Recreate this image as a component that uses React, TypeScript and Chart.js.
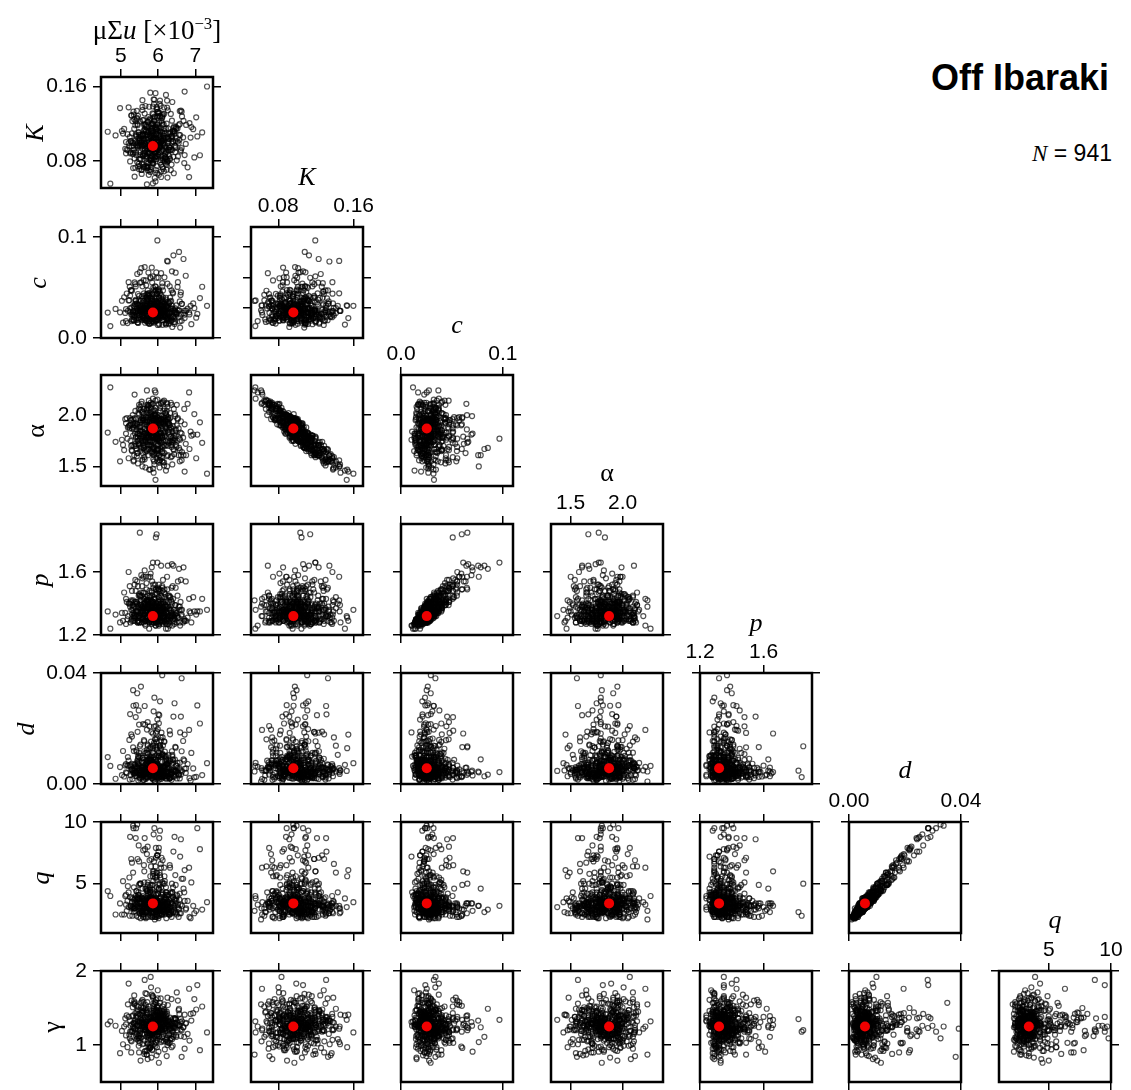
import React, { useEffect, useRef } from "react";
import { Chart, registerables } from "chart.js";
Chart.register(...registerables);

// Posterior samples (values estimated from the reference scatter clouds)
const MU = [
  5.91,5.42,6.23,5.77,6.05,5.18,6.58,5.86,5.63,6.31,
  5.52,6.12,5.97,4.98,6.44,5.74,5.36,6.02,6.89,5.68,
  6.17,5.81,5.29,6.36,5.94,5.58,7.12,5.71,6.08,5.45,
  5.83,6.47,5.61,5.99,5.24,6.21,5.88,6.63,5.49,5.96,
  6.28,5.67,5.06,6.14,5.79,6.71,5.55,5.92,6.39,4.72,
  5.73,6.09,5.87,5.33,6.52,5.64,6.01,5.41,6.26,5.84,
  5.59,6.35,5.93,6.84,5.21,5.78,6.16,5.69,5.47,6.03,
  6.42,5.76,5.38,6.11,5.89,6.97,5.62,6.24,5.12,5.95,
  5.85,5.31,6.19,5.72,6.56,5.98,5.44,6.07,5.66,7.31,
  5.57,6.29,5.82,5.16,6.12,5.91,6.48,5.35,5.79,6.04,
  6.33,5.69,5.53,6.67,5.86,5.27,6.13,5.94,5.61,6.38,
  5.74,6.06,5.40,5.97,6.79,5.63,5.88,6.22,5.09,5.81,
  6.15,5.51,5.92,6.43,5.70,6.02,5.34,6.61,5.84,5.60,
  5.99,6.27,5.46,5.80,6.09,4.86,6.53,5.75,5.93,6.18,
  5.65,5.89,6.34,5.23,6.01,5.78,6.75,5.56,6.11,5.87,
  6.46,5.38,5.96,6.20,5.67,6.04,5.49,5.83,7.02,5.72,
  5.94,6.37,5.58,5.14,6.25,5.85,5.71,6.59,5.43,6.06,
  5.80,5.62,6.16,5.97,5.30,6.41,5.90,5.68,6.28,5.52,
  6.10,5.77,6.64,5.48,5.95,6.19,5.36,5.86,6.50,5.64,
  5.88,6.32,5.55,6.03,5.19,5.76,6.23,5.98,5.42,6.87,
  5.70,6.14,5.89,5.51,6.40,5.81,5.03,6.07,5.93,6.26,
  6.55,5.66,5.99,5.37,5.84,6.30,5.60,6.12,5.74,5.47,
  5.92,6.44,5.28,5.87,6.70,5.54,6.05,5.79,6.17,5.33,
  5.64,5.96,6.36,5.72,5.45,6.09,5.83,7.18,5.58,6.02,
  6.21,5.50,5.90,6.13,5.69,5.25,6.47,5.82,5.98,4.65,
  5.78,6.03,5.49,6.26,5.91,5.37,6.12,5.84,6.45,5.66,
  5.95,5.58,6.31,5.72,6.08,5.26,5.99,6.61,5.81,5.44,
  6.19,5.87,5.63,6.02,5.32,6.38,5.76,5.94,6.83,5.55,
  5.69,6.15,5.85,5.46,6.27,5.97,5.61,6.05,5.14,6.21,
  5.88,5.53,6.34,5.79,6.01,5.68,6.49,5.42,5.93,6.13,
  6.07,5.74,5.29,6.22,5.86,6.57,5.59,5.96,6.11,5.81,
  5.51,6.18,5.90,5.65,6.42,5.83,6.04,5.39,6.25,5.73,
  5.98,6.33,5.47,5.89,5.62,6.09,5.77,6.68,5.54,6.00,
  5.84,5.35,6.16,5.93,6.52,5.70,5.99,5.57,6.29,5.80,
  6.24,5.66,5.92,6.06,5.21,5.85,6.40,5.75,6.03,5.60,
  5.71,6.12,5.50,6.36,5.87,5.97,5.43,6.20,5.82,6.74,
  5.95,5.64,6.08,5.34,6.17,5.89,5.72,6.47,5.56,6.01,
  6.30,5.78,5.52,5.96,6.14,5.67,6.58,5.88,5.41,6.05,
  5.61,6.23,5.83,6.02,5.28,5.94,6.37,5.74,6.10,5.86,
  6.00,5.48,6.26,5.79,5.92,6.63,5.58,6.15,5.69,5.99,
  5.76,6.09,5.40,6.32,5.87,5.62,6.04,5.90,6.94,5.53,
  6.18,5.85,5.71,6.43,5.97,5.33,6.07,5.80,6.22,5.65,
  5.91,5.59,6.13,5.77,6.50,5.96,5.45,6.03,5.86,6.28,
  5.68,6.35,5.89,5.55,6.11,5.82,6.71,5.63,5.98,6.19,
  6.06,5.73,5.37,6.24,5.94,5.60,6.16,5.84,5.50,6.41,
  5.80,6.01,6.55,5.70,5.25,6.12,5.88,5.58,6.30,5.95,
  5.64,6.21,5.83,6.08,5.76,5.47,6.39,5.92,5.69,6.04,
  6.14,5.52,5.97,6.60,5.81,6.05,5.39,5.87,6.25,5.75,
  5.90,6.17,5.61,5.99,6.46,5.72,5.86,6.10,5.44,6.02,
  5.56,6.27,5.94,5.78,6.13,5.30,6.36,5.85,6.00,7.05,
];

const K = [
  .1043,.0862,.1201,.0953,.0784,.1087,.1335,.0918,.1012,.0826,
  .0741,.1098,.0972,.1367,.1094,.0883,.1246,.0652,.1163,.0947,
  .0987,.0823,.1289,.1068,.0934,.1452,.0861,.1027,.0628,.1196,
  .1124,.0951,.0763,.1283,.1056,.0897,.1009,.1328,.0712,.1139,
  .0913,.1184,.1093,.0826,.0968,.1544,.0994,.0842,.1117,.0556,
  .1218,.0904,.1031,.0724,.1147,.0978,.1312,.1072,.0807,.1016,
  .0857,.1063,.0674,.1206,.0991,.0926,.1373,.0781,.1104,.1049,
  .1158,.0697,.1021,.1262,.0945,.0838,.1126,.1447,.0931,.0819,
  .1004,.1227,.0876,.0737,.1081,.1354,.0959,.1112,.0853,.1598,
  .0768,.1038,.1179,.0922,.0983,.0617,.1152,.1296,.0889,.1077,
  .1109,.0964,.0815,.1052,.1384,.0891,.1023,.0703,.1238,.0917,
  .0956,.1274,.1086,.0848,.0732,.0997,.1461,.0939,.1143,.0802,
  .1192,.1034,.0894,.1118,.0548,.1006,.0962,.1341,.0774,.1082,
  .0923,.1149,.0993,.0708,.1229,.1074,.0849,.1041,.1527,.0966,
  .1079,.0812,.1304,.0957,.1001,.0886,.1186,.0661,.1107,.1036,
  .0896,.0989,.1376,.0772,.1114,.0961,.1083,.0851,.1268,.0728,
  .1047,.1232,.0927,.1003,.0622,.1156,.0884,.1076,.1337,.0809,
  .0963,.0738,.1119,.1188,.0996,.0844,.1456,.1039,.0921,.1224,
  .1018,.0879,.1277,.0769,.1089,.0952,.1145,.0559,.1044,.1308,
  .1102,.0817,.0998,.1084,.0916,.1381,.0706,.1193,.0969,.1051,
  .0846,.1071,.1235,.0958,.1008,.0735,.1121,.1033,.0893,.1343,
  .0992,.1189,.0924,.0631,.1161,.0946,.1088,.0811,.1271,.1042,
  .0887,.1116,.1013,.1301,.0777,.1066,.0957,.1532,.0858,.0994,
  .1141,.0929,.1036,.0701,.1183,.1011,.0854,.1106,.1379,.0971,
  .0821,.1046,.1229,.0919,.1078,.0882,.1015,.1198,.0668,.1113,
  .0978,.1153,.0821,.1046,.1267,.0893,.0735,.1102,.0964,.1389,
  .0856,.1071,.0942,.1218,.0689,.1013,.1324,.0917,.1137,.0788,
  .1045,.0771,.1196,.0998,.0874,.1432,.0952,.1087,.0627,.1011,
  .1162,.0907,.0813,.1284,.1036,.0745,.0969,.1119,.0882,.1508,
  .0933,.1079,.0702,.1241,.0994,.0846,.1147,.1058,.0581,.1302,
  .0894,.1123,.0961,.0758,.1194,.1027,.0873,.1356,.0919,.1081,
  .1015,.0827,.1276,.0986,.0668,.1124,.0941,.1183,.0798,.1059,
  .0962,.1097,.0744,.1412,.0887,.1038,.0811,.1229,.0976,.1171,
  .1066,.0919,.1302,.0853,.1008,.0723,.1148,.0957,.1092,.0834,
  .0789,.1134,.0925,.1046,.1375,.0874,.1007,.0651,.1211,.0968,
  .0908,.1189,.1024,.0761,.1115,.0952,.1263,.0839,.1051,.0982,
  .1134,.0872,.0996,.1328,.0795,.1073,.0931,.1166,.0703,.1018,
  .0947,.1254,.0863,.1089,.0976,.0744,.1197,.1033,.0889,.1447,
  .1021,.0816,.1142,.0959,.1287,.0902,.1064,.0776,.1208,.0995,
  .0869,.1108,.0987,.0682,.1163,.0938,.1346,.1049,.0823,.1117,
  .1002,.0851,.1226,.0916,.1077,.0731,.1281,.0967,.1141,.0893,
  .1093,.0958,.0741,.1172,.1026,.0887,.1391,.0812,.1049,.0934,
  .0879,.1237,.0991,.1062,.0807,.1154,.0948,.1318,.0776,.1012,
  .1116,.0924,.1051,.0703,.1273,.0982,.0863,.1181,.1007,.0838,
  .0954,.1108,.0827,.1372,.0921,.1042,.0689,.1198,.0973,.1126,
  .1067,.0868,.1183,.0997,.0795,.1288,.0941,.1084,.0852,.1035,
  .0912,.1149,.1003,.0758,.1236,.0964,.1097,.0846,.1172,.1412,
  .1039,.0824,.1265,.0903,.1121,.0981,.0727,.1203,.1056,.0889,
  .0976,.1147,.0856,.1327,.0939,.1082,.0792,.1012,.1251,.0947,
  .1024,.0871,.1158,.0953,.0716,.1096,.0998,.1309,.0845,.1063,
];

const C = [
  .0247,.0334,.0193,.0416,.0285,.0148,.0362,.0224,.0297,.0513,
  .0318,.0176,.0437,.0254,.0268,.0648,.0207,.0373,.0137,.0294,
  .0232,.0341,.0168,.0472,.0203,.0271,.0396,.0249,.0322,.0154,
  .0366,.0213,.0288,.0129,.0507,.0324,.0252,.0338,.0183,.0597,
  .0251,.0403,.0152,.0266,.0344,.0197,.0552,.0228,.0291,.0118,
  .0442,.0246,.0317,.0178,.0273,.0703,.0211,.0368,.0172,.0287,
  .0198,.0293,.0468,.0234,.0372,.0141,.0269,.0343,.0253,.0398,
  .0272,.0167,.0336,.0509,.0226,.0296,.0202,.0764,.0248,.0321,
  .0401,.0227,.0267,.0153,.0853,.0209,.0292,.0371,.0181,.0319,
  .0214,.0339,.0256,.0441,.0131,.0274,.0323,.0177,.0602,.0231,
  .0289,.0171,.0369,.0248,.0267,.0474,.0212,.0342,.0196,.0109,
  .0229,.0326,.0511,.0182,.0291,.0253,.0268,.0147,.0404,.0337,
  .0273,.0652,.0208,.0249,.0367,.0142,.0319,.0233,.0438,.0179,
  .0343,.0201,.0266,.0397,.0232,.0288,.0553,.0169,.0324,.0213,
  .0151,.0317,.0254,.0374,.0598,.0209,.0271,.0184,.0293,.0471,
  .0294,.0252,.0439,.0143,.0337,.0274,.0228,.0698,.0201,.0371,
  .0508,.0208,.0272,.0167,.0323,.0247,.0402,.0103,.0341,.0234,
  .0254,.0368,.0179,.0287,.0469,.0211,.0268,.0318,.0149,.0549,
  .0271,.0231,.0339,.0198,.0651,.0292,.0171,.0372,.0251,.0323,
  .0209,.0401,.0288,.0132,.0269,.0343,.0249,.0967,.0178,.0318,
  .0321,.0252,.0153,.0273,.0443,.0212,.0369,.0289,.0182,.0758,
  .0203,.0268,.0342,.0228,.0551,.0168,.0291,.0247,.0399,.0322,
  .0287,.0139,.0473,.0269,.0231,.0368,.0199,.0319,.0601,.0252,
  .0248,.0342,.0181,.0436,.0272,.0317,.0213,.0508,.0233,.0291,
  .0399,.0232,.0273,.0371,.0169,.0293,.0647,.0211,.0322,.0252,
  .0312,.0246,.0418,.0187,.0283,.0551,.0229,.0347,.0156,.0298,
  .0271,.0389,.0203,.0335,.0642,.0259,.0177,.0453,.0294,.0221,
  .0364,.0192,.0277,.0481,.0238,.0319,.0145,.0402,.0253,.0692,
  .0228,.0306,.0172,.0436,.0265,.0349,.0573,.0209,.0287,.0133,
  .0341,.0259,.0196,.0397,.0286,.0522,.0236,.0315,.0168,.0471,
  .0253,.0418,.0302,.0184,.0611,.0273,.0347,.0216,.0386,.0289,
  .0332,.0208,.0457,.0267,.0159,.0371,.0296,.0533,.0241,.0314,
  .0279,.0361,.0149,.0296,.0442,.0224,.0318,.0783,.0263,.0195,
  .0387,.0232,.0276,.0174,.0506,.0321,.0251,.0412,.0138,.0339,
  .0303,.0186,.0369,.0245,.0553,.0289,.0213,.0428,.0266,.0325,
  .0221,.0356,.0274,.0169,.0497,.0311,.0238,.0383,.0152,.0617,
  .0297,.0198,.0426,.0262,.0338,.0183,.0471,.0254,.0316,.0229,
  .0349,.0243,.0207,.0396,.0281,.0571,.0164,.0327,.0258,.0443,
  .0266,.0313,.0189,.0408,.0235,.0286,.0661,.0219,.0352,.0271,
  .0308,.0377,.0227,.0293,.0512,.0172,.0261,.0339,.0432,.0248,
  .0324,.0202,.0379,.0255,.0161,.0294,.0463,.0236,.0343,.0276,
  .0251,.0433,.0287,.0195,.0358,.0269,.0223,.0592,.0312,.0178,
  .0337,.0214,.0281,.0446,.0244,.0318,.0156,.0392,.0263,.0301,
  .0283,.0368,.0199,.0309,.0543,.0234,.0271,.0417,.0187,.0329,
  .0258,.0391,.0313,.0206,.0477,.0272,.0352,.0167,.0298,.0819,
  .0232,.0346,.0275,.0192,.0419,.0256,.0308,.0512,.0241,.0365,
  .0284,.0218,.0363,.0261,.0142,.0327,.0452,.0279,.0398,.0247,
  .0315,.0264,.0188,.0427,.0295,.0219,.0371,.0253,.0538,.0286,
  .0339,.0228,.0304,.0471,.0256,.0381,.0197,.0291,.0634,.0242,
  .0273,.0358,.0212,.0319,.0403,.0183,.0267,.0296,.0459,.0239,
];

const ALPHA = [
  1.85,1.89,1.71,1.81,2.07,1.77,1.55,1.99,1.82,1.90,
  2.08,1.69,1.92,1.55,1.75,2.00,1.61,2.10,1.80,1.78,
  1.79,2.03,1.66,1.69,1.91,1.50,1.93,1.90,2.12,1.63,
  1.80,1.85,1.95,1.65,1.87,1.89,1.94,1.56,2.10,1.67,
  1.92,1.66,1.71,2.04,1.95,1.45,1.77,1.97,1.73,2.27,
  1.61,1.99,1.80,1.96,1.75,1.82,1.67,1.79,1.96,1.88,
  2.03,1.71,2.14,1.67,1.89,1.82,1.54,2.06,1.72,1.90,
  1.66,2.10,1.92,1.59,1.86,2.01,1.68,1.50,1.96,1.95,
  1.85,1.71,1.88,2.08,1.68,1.55,1.91,1.82,1.93,1.43,
  1.97,1.84,1.71,1.97,1.78,2.24,1.71,1.56,1.98,1.75,
  1.79,1.80,2.05,1.78,1.48,1.95,1.93,2.07,1.68,1.84,
  1.79,1.67,1.78,1.94,2.11,1.80,1.44,1.98,1.66,2.01,
  1.71,1.77,2.00,1.80,2.24,1.75,1.88,1.61,1.96,1.75,
  1.95,1.70,1.78,2.12,1.73,1.74,1.97,1.87,1.37,1.80,
  1.74,2.05,1.59,1.90,1.91,1.88,1.61,2.13,1.79,1.80,
  1.99,1.82,1.58,1.95,1.76,1.96,1.72,1.99,1.58,2.07,
  1.83,1.60,1.94,1.92,2.11,1.78,1.85,1.76,1.60,2.04,
  1.83,2.06,1.82,1.63,1.87,1.94,1.52,1.74,1.96,1.65,
  1.89,1.87,1.64,2.06,1.73,1.94,1.70,2.16,1.90,1.57,
  1.68,2.02,1.85,1.82,1.88,1.47,2.12,1.77,1.86,1.84,
  1.94,1.83,1.61,1.89,1.76,2.10,1.76,1.78,2.00,1.61,
  1.87,1.64,1.98,2.20,1.69,1.81,1.79,1.95,1.67,1.82,
  1.88,1.77,1.91,1.57,2.06,1.69,1.90,1.47,1.97,1.80,
  1.76,1.89,1.75,2.10,1.75,1.93,1.92,1.73,1.56,1.80,
  2.02,1.88,1.63,1.85,1.82,1.90,1.86,1.63,2.15,1.83,
  1.94,1.61,2.01,1.74,1.74,1.90,2.12,1.67,2.01,1.49,
  1.88,1.88,1.75,1.71,2.11,1.75,1.67,1.94,1.70,1.91,
  1.84,1.97,1.59,1.95,2.00,1.52,1.76,1.78,2.22,1.81,
  1.67,1.98,2.11,1.53,1.83,1.98,1.95,1.79,1.82,1.46,
  1.95,1.68,2.12,1.74,1.77,1.98,1.69,1.92,2.22,1.54,
  1.83,1.78,1.95,2.00,1.79,1.77,1.95,1.62,1.78,1.83,
  1.85,1.90,1.67,1.95,2.06,1.65,1.95,1.72,2.08,1.74,
  1.81,1.88,2.02,1.55,2.00,1.70,2.02,1.61,1.95,1.71,
  1.86,1.86,1.51,2.01,1.96,2.05,1.78,1.79,1.73,2.07,
  1.96,1.76,1.99,1.73,1.58,1.82,1.89,2.14,1.61,1.97,
  2.02,1.63,1.80,2.10,1.76,1.79,1.67,1.94,1.88,1.72,
  1.78,1.86,1.96,1.55,2.06,1.80,1.79,1.80,2.03,1.86,
  1.86,1.71,1.84,1.81,1.96,1.98,1.66,1.86,1.96,1.56,
  1.74,2.04,1.74,1.75,1.70,1.96,1.74,2.09,1.64,1.95,
  1.97,1.71,1.93,2.00,1.77,1.82,1.57,1.92,1.93,1.72,
  1.93,1.93,1.70,1.97,1.68,2.06,1.56,1.79,1.81,1.95,
  1.70,1.97,2.10,1.62,1.85,1.92,1.59,1.90,1.87,1.91,
  2.01,1.63,1.76,1.83,2.10,1.77,1.82,1.54,2.04,1.92,
  1.79,1.79,1.86,2.11,1.55,1.97,1.91,1.70,1.75,2.02,
  1.83,1.83,1.97,1.60,1.93,1.71,2.14,1.78,1.82,1.67,
  1.80,2.00,1.61,1.95,1.97,1.65,1.79,1.84,1.90,1.82,
  1.87,1.75,1.93,1.96,1.71,1.75,1.78,2.04,1.65,1.49,
  1.91,1.93,1.66,1.83,1.79,1.92,2.04,1.62,1.91,1.90,
  1.91,1.63,1.97,1.66,1.83,1.81,2.11,1.80,1.63,1.95,
  1.75,1.98,1.80,1.86,2.13,1.65,1.87,1.64,1.88,1.81,
];

const P = [
  1.34,1.33,1.30,1.45,1.29,1.30,1.38,1.28,1.40,1.44,
  1.34,1.29,1.46,1.28,1.33,1.57,1.29,1.44,1.28,1.31,
  1.34,1.35,1.29,1.50,1.26,1.35,1.35,1.32,1.40,1.28,
  1.38,1.33,1.30,1.27,1.51,1.34,1.33,1.32,1.28,1.84,
  1.37,1.37,1.29,1.32,1.41,1.29,1.47,1.37,1.30,1.24,
  1.42,1.29,1.41,1.29,1.31,1.61,1.32,1.35,1.31,1.40,
  1.31,1.33,1.39,1.35,1.40,1.29,1.31,1.42,1.29,1.40,
  1.36,1.28,1.33,1.51,1.29,1.35,1.33,1.57,1.34,1.31,
  1.37,1.36,1.32,1.29,1.62,1.28,1.40,1.35,1.29,1.36,
  1.31,1.41,1.29,1.41,1.27,1.38,1.34,1.31,1.57,1.31,
  1.32,1.31,1.44,1.28,1.35,1.41,1.31,1.43,1.28,1.26,
  1.35,1.35,1.48,1.33,1.31,1.33,1.28,1.30,1.47,1.35,
  1.32,1.85,1.32,1.28,1.42,1.26,1.34,1.36,1.39,1.30,
  1.38,1.27,1.39,1.37,1.35,1.33,1.54,1.30,1.32,1.33,
  1.29,1.33,1.36,1.40,1.49,1.35,1.29,1.28,1.37,1.50,
  1.39,1.31,1.39,1.28,1.40,1.29,1.32,1.63,1.33,1.37,
  1.82,1.32,1.38,1.27,1.32,1.35,1.41,1.26,1.35,1.37,
  1.35,1.37,1.29,1.29,1.48,1.32,1.39,1.35,1.30,1.45,
  1.31,1.35,1.36,1.32,1.49,1.36,1.33,1.36,1.32,1.43,
  1.31,1.36,1.37,1.27,1.32,1.42,1.29,1.66,1.32,1.34,
  1.32,1.34,1.30,1.31,1.43,1.33,1.34,1.40,1.28,1.64,
  1.31,1.39,1.34,1.32,1.54,1.26,1.37,1.28,1.39,1.38,
  1.31,1.27,1.42,1.37,1.30,1.42,1.31,1.31,1.49,1.37,
  1.33,1.35,1.32,1.45,1.29,1.36,1.36,1.43,1.33,1.33,
  1.42,1.28,1.38,1.37,1.29,1.38,1.50,1.32,1.35,1.35,
  1.34,1.39,1.46,1.24,1.43,1.52,1.36,1.32,1.30,1.41,
  1.36,1.38,1.37,1.37,1.64,1.28,1.29,1.55,1.33,1.35,
  1.39,1.32,1.29,1.52,1.39,1.40,1.24,1.38,1.43,1.58,
  1.37,1.34,1.30,1.51,1.29,1.40,1.57,1.28,1.43,1.24,
  1.35,1.39,1.31,1.40,1.41,1.44,1.34,1.41,1.26,1.55,
  1.36,1.42,1.30,1.34,1.66,1.36,1.35,1.33,1.48,1.33,
  1.45,1.29,1.43,1.37,1.29,1.47,1.31,1.55,1.30,1.38,
  1.33,1.44,1.29,1.44,1.40,1.33,1.34,1.63,1.39,1.30,
  1.45,1.38,1.33,1.29,1.45,1.42,1.32,1.51,1.28,1.35,
  1.37,1.26,1.46,1.36,1.60,1.32,1.33,1.39,1.38,1.47,
  1.35,1.35,1.37,1.34,1.52,1.35,1.40,1.41,1.28,1.54,
  1.32,1.37,1.45,1.32,1.44,1.32,1.41,1.35,1.45,1.31,
  1.45,1.30,1.34,1.38,1.37,1.57,1.28,1.36,1.41,1.42,
  1.37,1.38,1.27,1.49,1.36,1.30,1.65,1.33,1.37,1.41,
  1.32,1.45,1.38,1.35,1.52,1.33,1.31,1.40,1.53,1.31,
  1.40,1.36,1.37,1.32,1.30,1.43,1.48,1.29,1.44,1.33,
  1.38,1.41,1.38,1.31,1.34,1.42,1.29,1.59,1.38,1.27,
  1.36,1.35,1.41,1.48,1.28,1.40,1.28,1.49,1.39,1.32,
  1.39,1.42,1.35,1.34,1.50,1.38,1.29,1.47,1.31,1.46,
  1.40,1.40,1.41,1.27,1.49,1.36,1.47,1.31,1.32,1.64,
  1.31,1.44,1.38,1.31,1.40,1.40,1.35,1.56,1.36,1.38,
  1.38,1.27,1.48,1.35,1.28,1.35,1.51,1.30,1.49,1.37,
  1.35,1.40,1.30,1.41,1.41,1.34,1.40,1.40,1.49,1.37,
  1.43,1.30,1.32,1.50,1.39,1.41,1.32,1.44,1.54,1.38,
  1.37,1.45,1.28,1.44,1.41,1.33,1.41,1.32,1.48,1.35,
];

const D = [
  .0057,.0029,.0083,.0049,.0139,.0067,.0020,.0077,.0037,.0192,
  .0033,.0104,.0023,.0061,.0291,.0045,.0071,.0015,.0112,.0043,
  .0152,.0049,.0053,.0027,.0089,.0036,.0218,.0066,.0018,.0072,
  .0031,.0131,.0039,.0058,.0016,.0097,.0062,.0381,.0048,.0025,
  .0076,.0021,.0119,.0034,.0052,.0178,.0046,.0011,.0088,.0065,
  .0042,.0098,.0028,.0132,.0056,.0031,.0251,.0044,.0073,.0020,
  .0063,.0037,.0161,.0021,.0084,.0054,.0040,.0113,.0013,.0102,
  .0046,.0078,.0029,.0059,.0207,.0024,.0087,.0042,.0067,.0138,
  .0114,.0018,.0062,.0085,.0034,.0050,.0327,.0027,.0054,.0075,
  .0025,.0058,.0187,.0039,.0103,.0009,.0066,.0036,.0133,.0048,
  .0082,.0046,.0022,.0155,.0057,.0063,.0032,.0209,.0043,.0099,
  .0053,.0036,.0241,.0017,.0072,.0118,.0049,.0061,.0027,.0087,
  .0040,.0136,.0065,.0026,.0045,.0101,.0282,.0034,.0057,.0014,
  .0096,.0030,.0076,.0054,.0185,.0019,.0042,.0084,.0047,.0117,
  .0035,.0064,.0023,.0159,.0046,.0088,.0056,.0031,.0392,.0073,
  .0134,.0041,.0054,.0102,.0018,.0063,.0214,.0048,.0026,.0085,
  .0048,.0118,.0031,.0072,.0057,.0023,.0083,.0186,.0042,.0061,
  .0071,.0015,.0154,.0036,.0051,.0243,.0049,.0027,.0104,.0039,
  .0023,.0089,.0045,.0067,.0132,.0029,.0058,.0076,.0020,.0281,
  .0053,.0179,.0036,.0050,.0097,.0028,.0071,.0043,.0121,.0012,
  .0066,.0040,.0096,.0019,.0077,.0153,.0032,.0053,.0089,.0045,
  .0037,.0112,.0061,.0049,.0021,.0083,.0216,.0029,.0058,.0071,
  .0162,.0045,.0052,.0016,.0084,.0034,.0066,.0129,.0028,.0338,
  .0043,.0103,.0015,.0062,.0188,.0044,.0078,.0032,.0051,.0114,
  .0091,.0024,.0056,.0139,.0038,.0252,.0033,.0061,.0050,.0097,
  .0063,.0041,.0112,.0028,.0075,.0049,.0168,.0035,.0088,.0054,
  .0046,.0094,.0021,.0137,.0059,.0032,.0071,.0243,.0052,.0083,
  .0039,.0067,.0154,.0025,.0048,.0105,.0033,.0061,.0195,.0044,
  .0078,.0026,.0057,.0091,.0037,.0124,.0053,.0298,.0042,.0069,
  .0051,.0142,.0034,.0066,.0022,.0087,.0047,.0116,.0062,.0031,
  .0096,.0043,.0073,.0019,.0182,.0056,.0036,.0064,.0108,.0048,
  .0058,.0081,.0029,.0214,.0047,.0071,.0135,.0039,.0054,.0024,
  .0068,.0035,.0101,.0045,.0158,.0027,.0063,.0089,.0351,.0052,
  .0044,.0119,.0057,.0032,.0076,.0196,.0041,.0061,.0023,.0098,
  .0072,.0053,.0038,.0131,.0066,.0027,.0087,.0049,.0248,.0059,
  .0055,.0108,.0033,.0073,.0046,.0164,.0062,.0021,.0093,.0040,
  .0081,.0037,.0127,.0052,.0029,.0069,.0223,.0045,.0058,.0112,
  .0034,.0086,.0049,.0152,.0063,.0026,.0077,.0041,.0284,.0057,
  .0065,.0043,.0103,.0031,.0179,.0054,.0038,.0071,.0049,.0136,
  .0047,.0265,.0059,.0084,.0035,.0118,.0052,.0025,.0073,.0198,
  .0091,.0048,.0064,.0022,.0139,.0077,.0044,.0311,.0056,.0101,
  .0061,.0032,.0113,.0053,.0075,.0041,.0168,.0027,.0086,.0058,
  .0047,.0094,.0036,.0208,.0066,.0029,.0079,.0051,.0127,.0039,
  .0071,.0043,.0148,.0058,.0024,.0089,.0055,.0037,.0232,.0067,
  .0052,.0109,.0039,.0072,.0184,.0033,.0062,.0045,.0096,.0028,
  .0086,.0053,.0031,.0123,.0069,.0046,.0262,.0058,.0019,.0081,
  .0042,.0075,.0057,.0157,.0035,.0097,.0049,.0065,.0024,.0138,
  .0064,.0038,.0189,.0049,.0083,.0027,.0071,.0113,.0044,.0061,
  .0054,.0101,.0033,.0068,.0047,.0142,.0076,.0039,.0058,.0219,
  .0079,.0045,.0026,.0094,.0061,.0171,.0052,.0036,.0087,.0283,
];

const Q = [
  3.4,2.4,4.1,2.7,5.7,3.6,2.6,3.4,3.0,6.5,
  3.0,4.2,2.5,3.4,8.8,3.4,3.7,2.4,5.1,2.7,
  5.6,3.2,3.0,2.8,4.1,2.6,7.8,3.5,2.5,3.4,
  2.7,4.9,3.2,3.1,2.4,4.7,3.3,11.9,3.4,2.4,
  3.5,2.7,5.2,2.9,2.9,6.1,3.1,2.3,3.9,4.0,
  3.3,4.1,2.6,5.9,3.1,2.8,7.6,3.3,3.5,2.3,
  3.2,2.8,6.4,2.3,4.3,3.4,2.7,4.4,2.3,5.0,
  3.2,3.4,3.0,3.2,6.8,2.6,3.8,3.2,4.0,5.5,
  4.5,2.4,3.3,4.4,2.9,2.9,9.8,2.8,3.3,3.5,
  2.7,3.0,7.0,2.8,4.1,2.1,3.8,2.7,4.9,3.5,
  4.3,3.1,2.2,5.4,3.6,3.2,2.8,7.9,2.9,4.3,
  3.0,3.1,8.7,2.3,3.6,5.1,2.7,3.7,2.5,3.6,
  3.0,5.0,3.8,2.9,2.8,4.6,9.5,2.6,3.7,2.3,
  4.2,2.9,3.8,2.9,7.1,2.5,3.3,3.7,3.1,5.2,
  2.7,3.8,2.6,5.5,2.9,4.5,3.0,2.7,11.9,3.4,
  5.7,2.8,3.4,4.1,2.2,3.6,6.8,3.4,2.8,3.8,
  2.7,5.0,2.7,4.1,3.0,2.7,3.9,7.2,3.1,3.1,
  3.9,2.3,6.3,2.5,3.5,7.6,3.0,2.7,4.1,3.4,
  2.5,3.6,3.2,3.8,5.9,2.6,3.0,3.8,2.5,8.7,
  3.5,6.3,2.7,2.8,4.8,2.6,3.4,3.2,4.4,2.2,
  3.4,3.3,4.2,2.6,3.9,6.4,2.5,3.6,3.7,3.2,
  3.0,4.6,3.6,3.5,2.3,3.7,7.7,2.8,3.3,4.3,
  5.5,3.2,3.1,2.4,4.3,2.8,3.3,5.6,2.5,9.7,
  3.1,4.7,2.3,3.2,7.0,3.4,3.5,2.9,3.1,4.5,
  3.8,2.8,3.6,5.0,3.0,8.8,2.6,3.3,3.3,4.4,
  3.9,2.6,4.9,2.9,3.2,3.2,6.9,2.6,3.7,3.5,
  2.8,4.6,2.7,4.9,3.4,3.2,3.4,8.6,3.4,3.9,
  3.1,3.1,6.0,2.4,3.8,4.3,3.1,3.5,6.3,3.4,
  3.5,2.7,3.8,3.8,2.9,5.6,3.0,9.3,3.3,3.8,
  3.2,5.0,3.1,3.8,2.2,4.6,3.6,4.4,3.3,2.9,
  3.9,3.2,3.9,2.2,6.0,3.7,2.8,3.2,5.1,3.8,
  3.8,3.7,2.9,7.8,2.7,3.8,4.9,3.4,3.4,2.3,
  3.5,3.1,4.1,3.2,6.5,2.6,3.2,4.6,10.4,2.9,
  3.2,4.7,3.9,2.3,4.0,7.4,2.8,3.8,2.5,3.9,
  3.5,3.7,2.9,5.5,3.1,2.7,4.7,3.0,8.7,3.0,
  3.6,4.3,2.6,4.2,3.2,5.9,3.7,3.0,3.8,2.9,
  4.1,3.3,4.7,3.0,2.9,3.7,8.0,2.7,3.9,4.6,
  2.6,4.3,3.6,5.3,3.6,2.3,4.2,3.0,9.5,3.0,
  3.7,2.8,4.9,2.9,7.0,2.9,3.4,3.5,3.2,4.9,
  3.4,8.1,3.1,4.3,2.8,5.4,2.8,2.7,3.6,7.3,
  3.9,3.3,4.0,2.5,5.8,3.6,3.2,9.5,3.2,5.0,
  3.5,3.0,4.4,3.7,3.6,3.1,6.6,2.4,4.3,3.9,
  3.3,4.0,3.1,6.9,4.1,2.7,3.5,3.3,5.6,2.7,
  3.5,3.4,6.0,3.5,2.5,3.8,3.6,3.4,7.3,3.4,
  3.8,4.2,3.0,4.0,7.1,2.5,3.5,3.4,4.0,2.7,
  4.4,3.4,2.3,4.5,3.9,3.5,9.0,3.1,2.5,3.8,
  3.0,4.3,3.0,6.3,3.3,4.1,3.3,3.1,2.7,5.9,
  3.2,3.1,7.3,3.3,3.6,2.9,3.8,5.2,2.7,3.7,
  3.4,5.0,2.5,3.3,3.4,5.1,4.3,2.9,3.2,7.9,
  3.8,3.3,2.7,4.7,3.1,6.7,3.8,2.5,4.2,9.5,
];

const GAMMA = [
  1.31,1.08,1.45,1.22,1.57,0.97,1.26,1.39,1.14,1.03,
  1.19,1.52,1.28,0.89,1.36,1.24,1.67,1.11,1.33,1.21,
  1.42,1.17,1.05,1.29,1.61,1.25,0.93,1.38,1.20,1.48,
  1.13,1.34,1.27,1.74,1.09,1.23,1.44,0.84,1.30,1.18,
  1.26,1.50,1.01,1.35,1.16,1.41,1.22,1.58,0.99,1.32,
  1.07,1.29,1.46,1.19,1.27,0.91,1.37,1.12,1.54,1.24,
  1.40,1.15,1.32,1.06,1.83,1.28,1.21,1.47,1.10,1.35,
  1.23,0.95,1.30,1.43,1.18,1.62,1.25,1.04,1.36,1.20,
  1.14,1.39,1.26,0.81,1.49,1.32,1.09,1.27,1.70,1.17,
  1.33,1.22,1.02,1.40,1.25,1.55,1.13,1.29,0.96,1.44,
  1.28,1.11,1.36,1.24,1.64,1.06,1.31,1.19,1.45,1.26,
  0.98,1.34,1.21,1.52,1.15,1.29,1.41,1.08,1.25,1.78,
  1.37,1.20,1.12,1.30,0.87,1.46,1.23,1.35,1.16,1.27,
  1.50,1.03,1.32,1.18,1.42,1.26,1.60,1.10,1.34,0.94,
  1.21,1.38,1.27,1.14,1.53,1.00,1.30,1.44,1.22,1.17,
  1.29,1.57,1.07,1.33,1.24,1.39,0.90,1.26,1.48,1.12,
  1.35,1.19,1.43,1.28,1.05,1.66,1.22,1.31,1.15,1.40,
  1.08,1.30,1.25,1.51,1.18,1.36,1.01,1.45,1.27,1.21,
  1.46,1.13,1.32,0.99,1.40,1.24,1.59,1.17,1.29,1.88,
  1.23,1.37,1.10,1.28,1.55,1.20,0.85,1.34,1.26,1.42,
  1.16,1.30,1.47,1.09,1.25,1.38,1.19,1.63,1.04,1.33,
  1.27,0.92,1.41,1.22,1.35,1.14,1.50,1.28,1.20,1.06,
  1.39,1.24,1.18,1.56,1.11,1.30,1.43,0.97,1.34,1.25,
  1.20,1.47,1.29,1.02,1.37,1.23,1.15,1.52,1.31,0.76,
  1.32,1.12,1.40,1.26,1.69,1.18,1.35,1.07,1.45,1.28,
  1.24,1.41,1.09,1.33,1.18,1.55,1.27,0.94,1.36,1.21,
  1.48,1.15,1.30,1.02,1.39,1.26,1.63,1.12,1.29,1.45,
  1.19,1.34,0.88,1.25,1.51,1.08,1.37,1.22,1.76,1.31,
  1.28,1.05,1.43,1.20,1.35,0.97,1.58,1.26,1.13,1.40,
  1.16,1.47,1.23,1.32,0.91,1.29,1.11,1.53,1.25,1.38,
  1.35,1.19,1.60,1.07,1.27,1.42,1.23,0.86,1.31,1.17,
  1.03,1.44,1.28,1.37,1.14,1.68,1.21,1.33,1.00,1.26,
  1.39,1.22,1.12,1.49,1.29,1.06,1.35,1.24,1.57,1.18,
  1.27,1.56,1.34,0.99,1.20,1.43,1.15,1.30,1.25,1.92,
  1.10,1.32,1.46,1.23,1.38,0.93,1.28,1.52,1.19,1.35,
  1.44,1.17,1.26,1.62,1.08,1.31,1.40,1.22,0.83,1.29,
  1.21,1.37,1.04,1.30,1.47,1.25,1.14,1.36,1.59,1.18,
  1.32,0.96,1.41,1.24,1.15,1.54,1.27,1.09,1.38,1.22,
  1.50,1.28,1.19,1.35,0.90,1.45,1.23,1.31,1.11,1.66,
  1.26,1.42,1.13,1.30,1.37,1.20,1.01,1.48,1.27,1.34,
  1.16,1.39,1.29,1.07,1.53,1.24,1.35,1.18,1.43,0.79,
  1.33,1.21,1.58,1.26,1.12,1.40,1.30,0.98,1.36,1.25,
  1.19,1.46,1.34,1.23,1.71,1.14,1.28,1.38,1.05,1.31,
  1.41,1.09,1.25,1.51,1.20,1.33,0.95,1.29,1.44,1.22,
  1.27,1.36,1.17,1.42,1.03,1.30,1.55,1.24,1.32,1.11,
  1.38,1.22,1.47,0.92,1.33,1.19,1.26,1.61,1.15,1.35,
  1.06,1.30,1.24,1.40,1.28,1.52,1.18,1.34,0.87,1.25,
  1.45,1.16,1.31,1.21,1.37,1.08,1.43,1.27,1.64,1.20,
  1.29,1.39,1.02,1.33,1.23,1.49,1.17,1.36,1.26,1.12,
  1.34,1.25,1.57,1.14,1.40,1.28,0.97,1.32,1.21,1.81,
];

// Best-fit (red) point, parameter order: muSigmaU, K, c, alpha, p, d, q, gamma
const BEST = [5.86, 0.096, 0.0253, 1.87, 1.32, 0.0057, 3.4, 1.25];

const AXIS_MIN = [4.47, 0.051, 0.0, 1.31, 1.2, 0.0, 1.0, 0.5];
const AXIS_MAX = [7.47, 0.17, 0.11, 2.39, 1.905, 0.04, 10.0, 2.0];
const TICK_VALUES = [[5, 6, 7], [0.08, 0.16], [0, 0.1], [1.5, 2.0], [1.2, 1.6], [0, 0.04], [5, 10], [1, 2]];
const TICK_LABELS = [["5", "6", "7"], ["0.08", "0.16"], ["0.0", "0.1"], ["1.5", "2.0"], ["1.2", "1.6"], ["0.00", "0.04"], ["5", "10"], ["1", "2"]];
const C_TICKS_IN_K_PANEL = [0.03, 0.06, 0.09];

const SAMPLES = [MU, K, C, ALPHA, P, D, Q, GAMMA];

const ROW_TITLES = ["K", "c", "α", "p", "d", "q", "γ"];
const ROW_TITLE_ITALIC = [true, true, false, true, true, true, false];
const ROW_TITLE_X = [35, 38, 36, 40, 26, 41, 52];
const COL_TITLES = ["", "K", "c", "α", "p", "d", "q"];
const COL_TITLE_ITALIC = [false, true, true, false, true, true, true];
const COL_TITLE_Y = [30, 177, 325, 473, 623, 770, 920];

const COL_LEFT = [101, 251, 401, 551, 700, 849, 999];
const ROW_TOP = [77, 227, 375, 524, 673, 822, 971];
const PW = 112;
const PH = 111;
const ML = 80, MT = 45, MR = 30, MB = 20;

const SANS = "'Liberation Sans', Arial, Helvetica, sans-serif";
const SERIF = "'Liberation Serif', 'Times New Roman', 'DejaVu Serif', serif";

const framePlugin = {
  id: "frame",
  afterDraw(chart: any) {
    const { ctx, chartArea } = chart;
    ctx.save();
    ctx.strokeStyle = "#000";
    ctx.lineWidth = 2.5;
    ctx.strokeRect(chartArea.left, chartArea.top, chartArea.right - chartArea.left, chartArea.bottom - chartArea.top);
    ctx.restore();
  },
};

function makeScale(param: number, ticks: number[], position: string, showLabels: boolean, size: number) {
  const vertical = position === "left" || position === "right";
  return {
    type: "linear",
    axis: vertical ? "y" : "x",
    position,
    min: AXIS_MIN[param],
    max: AXIS_MAX[param],
    grid: { display: true, drawOnChartArea: false, drawTicks: true, tickLength: 8, color: "#000", lineWidth: 1.5 },
    border: { display: false },
    afterBuildTicks: (s: any) => {
      s.ticks = ticks.map((v) => ({ value: v }));
    },
    afterFit: (s: any) => {
      if (vertical) s.width = size;
      else s.height = size;
    },
    ticks: {
      display: showLabels,
      autoSkip: false,
      maxRotation: 0,
      minRotation: 0,
      padding: vertical ? 6 : 0,
      color: "#000",
      font: { family: SANS, size: 21 },
      callback: (_v: any, i: number) => (TICK_LABELS[param][i] ?? ""),
    },
  };
}

function Panel({ row, col }: { row: number; col: number }) {
  const ref = useRef<HTMLCanvasElement | null>(null);
  useEffect(() => {
    if (!ref.current) return;
    const xi = col;
    const yi = row + 1;
    const yTicks = yi === 2 && xi === 1 ? C_TICKS_IN_K_PANEL : TICK_VALUES[yi];
    const xs = SAMPLES[xi];
    const ys = SAMPLES[yi];
    const pts = xs.map((v, i) => ({ x: v, y: ys[i] }));
    const chart = new Chart(ref.current, {
      type: "scatter",
      data: {
        datasets: [
          {
            data: [{ x: BEST[xi], y: BEST[yi] }],
            pointRadius: 5,
            pointHoverRadius: 5,
            pointBorderWidth: 0,
            backgroundColor: "rgb(240,0,0)",
            borderColor: "rgb(240,0,0)",
            order: 0,
          },
          {
            data: pts,
            pointRadius: 2.5,
            pointHoverRadius: 2.5,
            pointBorderWidth: 1.2,
            borderColor: "rgba(0,0,0,0.68)",
            backgroundColor: "rgba(0,0,0,0)",
            order: 1,
          },
        ],
      },
      options: {
        animation: false,
        responsive: false,
        devicePixelRatio: 1,
        events: [],
        layout: { padding: 0 },
        plugins: { legend: { display: false }, tooltip: { enabled: false }, title: { display: false } },
        scales: {
          x: makeScale(xi, TICK_VALUES[xi], "bottom", false, MB),
          x2: makeScale(xi, TICK_VALUES[xi], "top", col === row, MT),
          y: makeScale(yi, yTicks, "left", col === 0, ML),
          y2: makeScale(yi, yTicks, "right", false, MR),
        },
      } as any,
      plugins: [framePlugin],
    } as any);
    return () => chart.destroy();
  }, [row, col]);
  return (
    <canvas
      ref={ref}
      width={PW + ML + MR}
      height={PH + MT + MB}
      style={{ position: "absolute", left: COL_LEFT[col] - ML, top: ROW_TOP[row] - MT }}
    />
  );
}

export default function App() {
  const panels: any[] = [];
  for (let r = 0; r < 7; r++) {
    for (let c = 0; c <= r; c++) {
      panels.push(<Panel key={`${r}-${c}`} row={r} col={c} />);
    }
  }
  const titleBase: any = {
    position: "absolute",
    fontFamily: SERIF,
    fontSize: 26,
    lineHeight: 1,
    whiteSpace: "nowrap",
    color: "#000",
  };
  return (
    <div style={{ position: "absolute", left: 0, top: 0, width: 1131, height: 1090, background: "#fff", overflow: "hidden" }}>
      {panels}
      {ROW_TITLES.map((t, r) => (
        <div
          key={`rt${r}`}
          style={{
            ...titleBase,
            left: ROW_TITLE_X[r],
            top: ROW_TOP[r] + PH / 2,
            fontStyle: ROW_TITLE_ITALIC[r] ? "italic" : "normal",
            transform: "translate(-50%,-50%) rotate(-90deg)",
          }}
        >
          {t}
        </div>
      ))}
      {COL_TITLES.map((t, c) =>
        c === 0 ? (
          <div key="ct0" style={{ ...titleBase, fontSize: 27, left: COL_LEFT[0] + PW / 2, top: COL_TITLE_Y[0], transform: "translate(-50%,-50%)" }}>
            μΣ<i>u</i> [×10
            <span style={{ fontSize: "0.62em", position: "relative", top: "-0.6em" }}>−3</span>]
          </div>
        ) : (
          <div
            key={`ct${c}`}
            style={{
              ...titleBase,
              left: COL_LEFT[c] + PW / 2,
              top: COL_TITLE_Y[c],
              fontStyle: COL_TITLE_ITALIC[c] ? "italic" : "normal",
              transform: "translate(-50%,-50%)",
            }}
          >
            {t}
          </div>
        )
      )}
      <div
        style={{
          position: "absolute",
          right: 22,
          top: 60,
          fontFamily: SANS,
          fontWeight: "bold",
          fontSize: 36,
          lineHeight: "36px",
          whiteSpace: "nowrap",
          color: "#000",
        }}
      >
        Off Ibaraki
      </div>
      <div
        style={{
          position: "absolute",
          right: 19,
          top: 142,
          fontFamily: SANS,
          fontSize: 23,
          lineHeight: "23px",
          whiteSpace: "nowrap",
          color: "#000",
        }}
      >
        <span style={{ fontFamily: SERIF, fontStyle: "italic" }}>N</span> = 941
      </div>
    </div>
  );
}
